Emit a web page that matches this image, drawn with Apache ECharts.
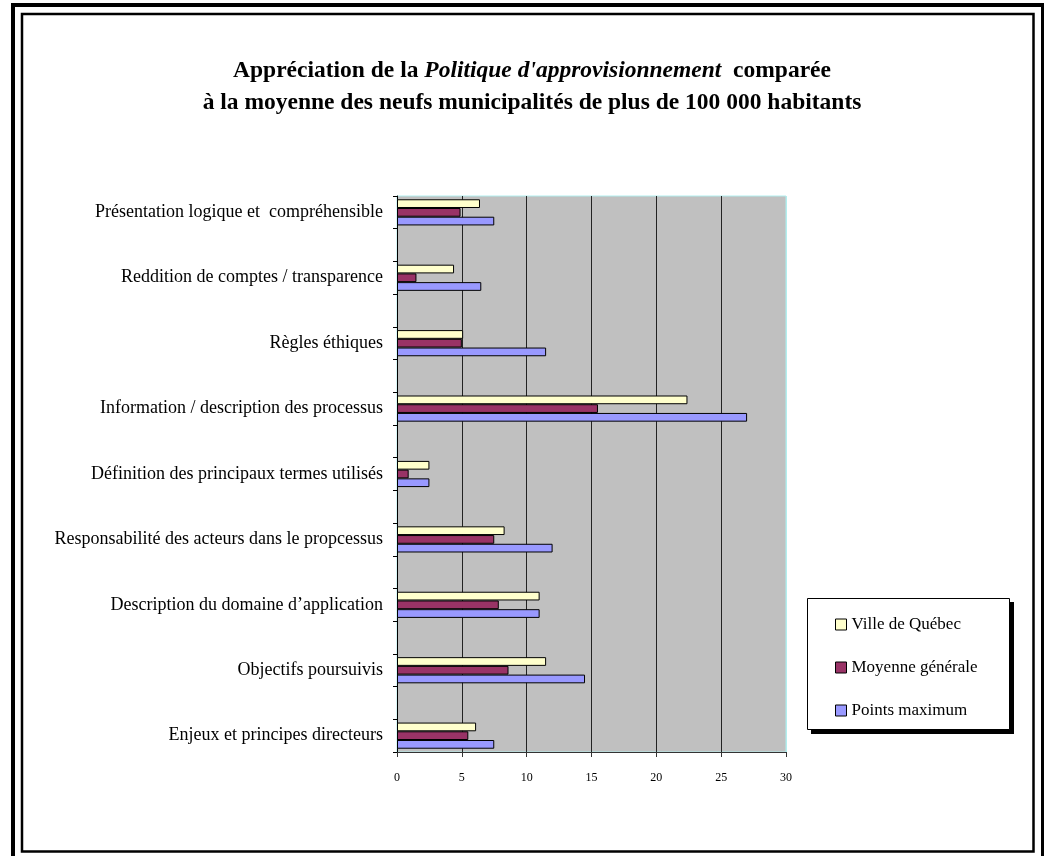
<!DOCTYPE html>
<html>
<head>
<meta charset="utf-8">
<script src="https://cdn.jsdelivr.net/npm/echarts@6/dist/echarts.min.js"></script>
<style>
html,body{margin:0;padding:0;background:#fff;}
#chart{width:1044px;height:856px;}
</style>
</head>
<body>
<div id="chart"></div>
<script>
// Categories listed bottom-to-top
var categories = [
  'Enjeux et principes directeurs',
  'Objectifs poursuivis',
  'Description du domaine d\u2019application',
  'Responsabilit\u00e9 des acteurs dans le propcessus',
  'D\u00e9finition des principaux termes utilis\u00e9s',
  'Information / description des processus',
  'R\u00e8gles \u00e9thiques',
  'Reddition de comptes / transparence',
  'Pr\u00e9sentation logique et  compr\u00e9hensible'
];
var villeQuebec = [6.1, 11.5, 11.0, 8.3, 2.5, 22.4, 5.1, 4.4, 6.4];
var moyenneGenerale = [5.5, 8.6, 7.85, 7.5, 0.9, 15.5, 5.0, 1.5, 4.9];
var pointsMaximum = [7.5, 14.5, 11.0, 12.0, 2.5, 27.0, 11.5, 6.5, 7.5];
var seriesNames = ['Ville de Qu\u00e9bec', 'Moyenne g\u00e9n\u00e9rale', 'Points maximum'];
var xTicks = [0, 5, 10, 15, 20, 25, 30];

// The original chart has an empty row between each category
function spread(arr, blank) {
  var out = [];
  arr.forEach(function (v, i) {
    out.push(v);
    if (i < arr.length - 1) out.push(blank);
  });
  return out;
}

var FONT = "'Liberation Serif', 'Times New Roman', serif";
var chart = echarts.init(document.getElementById('chart'), null, {renderer: 'canvas'});

var option = {
  backgroundColor: '#fff',
  animation: false,
  title: {
    text: "{b|Appr\u00e9ciation de la }{bi|Politique d'approvisionnement}{b|  compar\u00e9e}\n{b|\u00e0 la moyenne des neufs municipalit\u00e9s de plus de 100 000 habitants}",
    left: 527,
    top: 50,
    textAlign: 'center',
    textStyle: {
      rich: {
        b: {fontFamily: FONT, fontWeight: 'bold', fontSize: 23.5, lineHeight: 32, color: '#000'},
        bi: {fontFamily: FONT, fontWeight: 'bold', fontStyle: 'italic', fontSize: 23.5, lineHeight: 32, color: '#000'}
      }
    }
  },
  legend: {
    orient: 'vertical',
    left: 807,
    top: 598,
    padding: [18, 26, 13, 28],
    itemGap: 26,
    itemWidth: 11,
    itemHeight: 11,
    icon: 'rect',
    z: 10,
    data: seriesNames,
    itemStyle: {borderColor: '#000', borderWidth: 1},
    textStyle: {fontFamily: FONT, fontSize: 17, color: '#000'}
  },
  grid: {
    left: 397,
    top: 196,
    right: 258,
    bottom: 104,
    show: true,
    backgroundColor: '#c0c0c0',
    borderColor: '#b2eeee',
    borderWidth: 1
  },
  xAxis: {
    type: 'value',
    min: xTicks[0],
    max: xTicks[xTicks.length - 1],
    interval: 5,
    axisLine: {show: true, lineStyle: {color: '#333', width: 1}},
    axisTick: {show: true, length: 5, lineStyle: {color: '#333'}},
    axisLabel: {fontFamily: FONT, fontSize: 12, color: '#000', margin: 20},
    splitLine: {show: true, lineStyle: {color: ['#000', '#222', '#222', '#222', '#222', '#222', '#b2eeee'], width: 1}}
  },
  yAxis: {
    type: 'category',
    data: spread(categories, ''),
    axisLine: {show: true, lineStyle: {color: '#000', width: 1}},
    axisTick: {show: true, interval: 0, length: 4, lineStyle: {color: '#000'}},
    axisLabel: {interval: 0, fontFamily: FONT, fontSize: 18, color: '#000', margin: 14},
    splitLine: {show: false}
  },
  series: [
    {
      name: seriesNames[0], type: 'bar', data: spread(villeQuebec, null),
      barGap: '0%', barCategoryGap: '20%',
      itemStyle: {color: '#ffffcc', borderColor: '#000', borderWidth: 1}
    },
    {
      name: seriesNames[1], type: 'bar', data: spread(moyenneGenerale, null),
      barGap: '0%', barCategoryGap: '20%',
      itemStyle: {color: '#993366', borderColor: '#000', borderWidth: 1}
    },
    {
      name: seriesNames[2], type: 'bar', data: spread(pointsMaximum, null),
      barGap: '0%', barCategoryGap: '20%',
      itemStyle: {color: '#9999ff', borderColor: '#000', borderWidth: 1}
    }
  ],
  graphic: [
    // legend box shadow and frame
    {type: 'rect', silent: true, z: 1, shape: {x: 811, y: 602, width: 203, height: 132},
     style: {fill: '#000', stroke: null}},
    {type: 'rect', silent: true, z: 2, shape: {x: 807.5, y: 598.5, width: 202, height: 131},
     style: {fill: '#fff', stroke: '#000', lineWidth: 1}},
    // double page frame
    {type: 'rect', silent: true, z: 100, shape: {x: 13, y: 5, width: 1030, height: 900},
     style: {fill: null, stroke: '#000', lineWidth: 4}},
    {type: 'rect', silent: true, z: 100, shape: {x: 22, y: 14, width: 1011.5, height: 837.5},
     style: {fill: null, stroke: '#000', lineWidth: 2.5}}
  ]
};
chart.setOption(option);
</script>
</body>
</html>
